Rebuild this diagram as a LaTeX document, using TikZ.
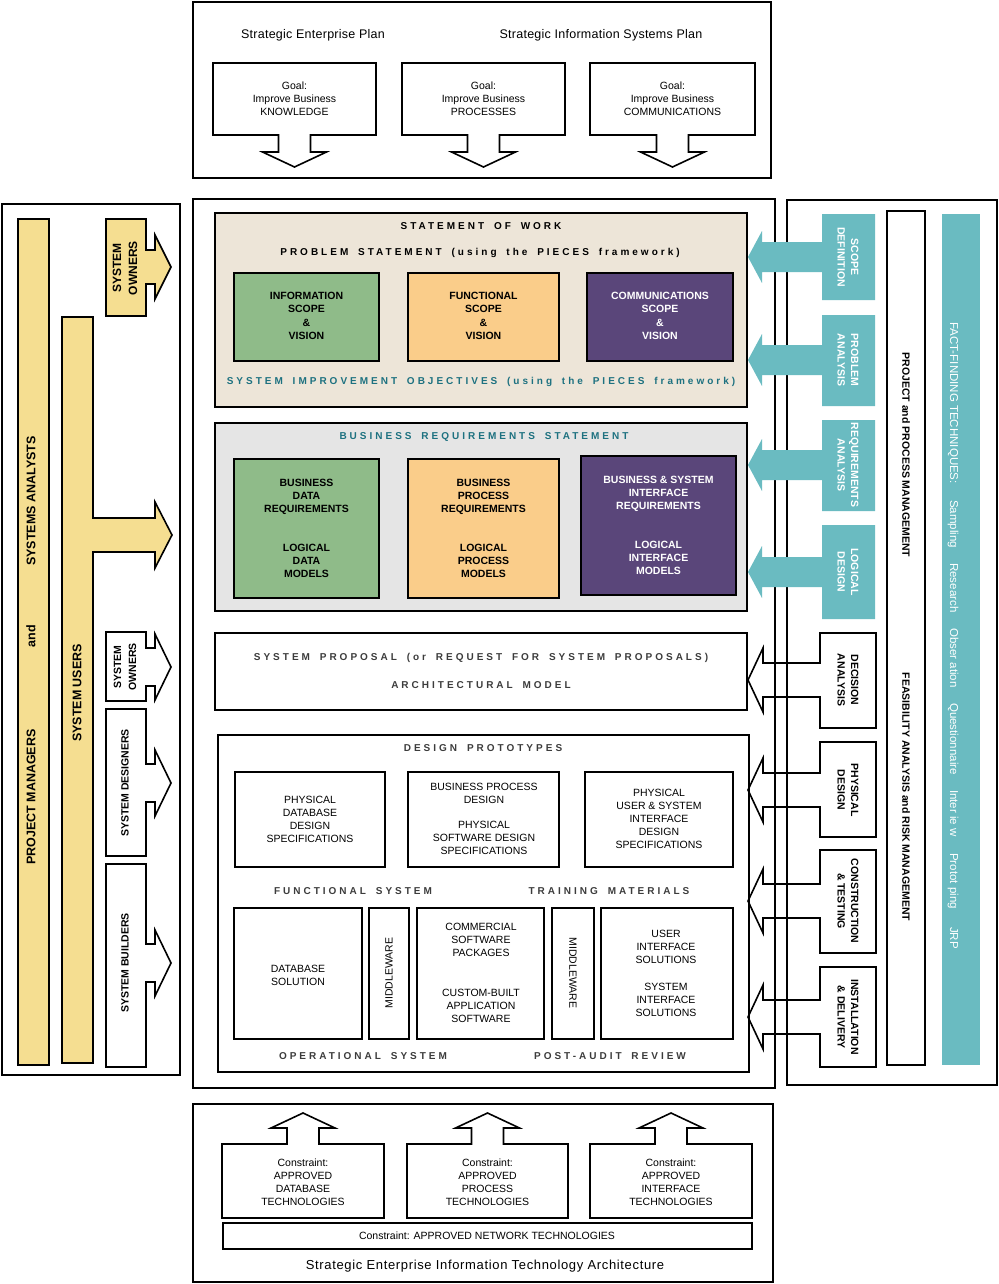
\documentclass[tikz,border=0pt]{standalone}
\usepackage{fontspec}
\setmainfont{Liberation Sans}
\newfontfamily\trackfont[LetterSpace=30, WordSpace=1.7]{Liberation Sans}
\newfontfamily\planfont[LetterSpace=2]{Liberation Sans}
\newfontfamily\archfont[LetterSpace=5]{Liberation Sans}
\definecolor{sowbeige}{RGB}{237,229,216}
\definecolor{brsgray}{RGB}{229,229,229}
\definecolor{scopegreen}{RGB}{143,187,137}
\definecolor{scopeorange}{RGB}{250,205,138}
\definecolor{scopepurple}{RGB}{90,70,122}
\definecolor{phaseteal}{RGB}{106,187,193}
\definecolor{headteal}{RGB}{29,113,128}
\definecolor{peopleyellow}{RGB}{245,222,145}
\definecolor{proposalgray}{RGB}{60,60,60}
\tikzset{frame/.style = {draw, line width=1.6pt, line join=miter},
         plantext/.style = {inner sep=0pt, font={\planfont\fontsize{12.5}{15}\selectfont}},
         boxtext/.style = {inner sep=0pt, align=center, font={\fontsize{10.5}{13}\selectfont}},
         boldtext/.style = {inner sep=0pt, align=center, font={\bfseries\fontsize{10.5}{13.3}\selectfont}},
         roletext/.style = {inner sep=0pt, align=center, font={\bfseries\fontsize{12.5}{15}\selectfont}},
         heading/.style = {inner sep=0pt, font={\trackfont\bfseries\fontsize{10}{12}\selectfont}},
         factword/.style = {inner sep=0pt, anchor=base west, rotate=-90, text=white,
                            font={\fontsize{11.5}{13}\selectfont}}}

\begin{document}
\begin{tikzpicture}[x=1pt, y=-1pt]
  \useasboundingbox (0,0) rectangle (998,1284);

  % strategic plans
  \draw [frame] (193,2) rectangle (771,178);
  \node [plantext] (enterprise) at (313,35) {Strategic Enterprise Plan};
  \node [plantext] (isplan) at (601,35) {Strategic Information Systems Plan};
  \foreach \xa/\xb/\goal [count=\i] in {213/376/KNOWLEDGE, 402/565/PROCESSES, 590/755/COMMUNICATIONS} {
    \pgfmathsetmacro\midx{(\xa+\xb)/2}
    \draw [frame] (\xa,63) -- (\xb,63) -- (\xb,135) -- (\midx+16,135) -- (\midx+16,152) -- (\midx+32,152)
      -- (\midx,167) -- (\midx-32,152) -- (\midx-16,152) -- (\midx-16,135) -- (\xa,135) -- cycle;
    \node [boxtext] (goal\i) at (\midx,99) {Goal:\\Improve Business\\\goal};
  }

  % technology architecture
  \draw [frame] (193,1104) rectangle (773,1282);
  \foreach \xa/\xb/\tech [count=\i] in {222/384/DATABASE, 407/568/PROCESS, 590/752/INTERFACE} {
    \pgfmathsetmacro\midx{(\xa+\xb)/2}
    \draw [frame] (\xa,1218) -- (\xa,1144) -- (\midx-16,1144) -- (\midx-16,1128) -- (\midx-32,1128)
      -- (\midx,1113) -- (\midx+32,1128) -- (\midx+16,1128) -- (\midx+16,1144) -- (\xb,1144) -- (\xb,1218) -- cycle;
    \node [boxtext] (tech\i) at (\midx,1182) {Constraint:\\APPROVED\\\tech\\TECHNOLOGIES};
  }
  \draw [frame] (223,1223) rectangle (752,1249);
  \node [boxtext] (network) at (487,1236) {Constraint: APPROVED NETWORK TECHNOLOGIES};
  \node [plantext, font={\archfont\fontsize{13}{15}\selectfont}] (architecture) at (485,1266)
    {Strategic Enterprise Information Technology Architecture};

  % people
  \draw [frame] (2,204) rectangle (180,1075);
  \draw [frame, fill=peopleyellow] (18,219) rectangle (49,1065);
  \draw [frame, fill=peopleyellow] (62,317) -- (93,317) -- (93,518) -- (155,518) -- (155,502) -- (172,535)
    -- (155,568) -- (155,552) -- (93,552) -- (93,1063) -- (62,1063) -- cycle;
  \draw [frame, fill=peopleyellow] (106,219) -- (146,219) -- (146,250) -- (155,250) -- (155,235) -- (171,267)
    -- (155,299) -- (155,284) -- (146,284) -- (146,316) -- (106,316) -- cycle;
  \node [roletext, rotate=90] (analysts) at (31,501) {SYSTEMS ANALYSTS};
  \node [roletext, rotate=90] (and) at (31,636) {and};
  \node [roletext, rotate=90] (managers) at (31,797) {PROJECT MANAGERS};
  \node [roletext, rotate=90] (users) at (77,693) {SYSTEM USERS};
  \node [roletext, rotate=90, font={\bfseries\fontsize{12}{16}\selectfont}] (owners) at (125,268) {SYSTEM\\OWNERS};
  \foreach \ya/\yb/\yc/\who [count=\i] in {632/701/667/{SYSTEM\\OWNERS}, 709/856/783/{SYSTEM DESIGNERS},
                                          864/1067/963/{SYSTEM BUILDERS}} {
    \draw [frame] (106,\ya) -- (146,\ya) -- (146,\yc-19) -- (155,\yc-19) -- (155,\yc-33) -- (171,\yc)
      -- (155,\yc+33) -- (155,\yc+19) -- (146,\yc+19) -- (146,\yb) -- (106,\yb) -- cycle;
    \node [boldtext, rotate=90, font={\bfseries\fontsize{10.5}{15}\selectfont}] (role\i) at (125,\yc) {\who};
  }

  % deliverables
  \draw [frame] (193,199) rectangle (775,1088);
  \draw [frame, fill=sowbeige] (215,213) rectangle (747,407);
  \node [heading] (sow) at (481,226) {STATEMENT OF WORK};
  \node [heading] (problem) at (480,253) {PROBLEM STATEMENT (using the PIECES framework)};
  \foreach \xa/\xb/\col/\ink/\what [count=\i] in {234/379/scopegreen/black/INFORMATION,
                                                 408/559/scopeorange/black/FUNCTIONAL,
                                                 587/733/scopepurple/white/COMMUNICATIONS} {
    \draw [frame, fill=\col] (\xa,273) rectangle (\xb,361);
    \node [boldtext, text=\ink] (scope\i) at ({(\xa+\xb)/2},316) {\what\\SCOPE\\\&\\VISION};
  }
  \node [heading, text=headteal] (objectives) at (481,382) {SYSTEM IMPROVEMENT OBJECTIVES (using the PIECES framework)};

  \draw [frame, fill=brsgray] (215,423) rectangle (747,611);
  \node [heading, text=headteal] (brs) at (484,437) {BUSINESS REQUIREMENTS STATEMENT};
  \foreach \xa/\ya/\xb/\yb/\col/\ink/\upper/\lower [count=\i] in
      {234/459/379/598/scopegreen/black/{BUSINESS\\DATA\\REQUIREMENTS}/{LOGICAL\\DATA\\MODELS},
       408/459/559/598/scopeorange/black/{BUSINESS\\PROCESS\\REQUIREMENTS}/{LOGICAL\\PROCESS\\MODELS},
       581/456/736/595/scopepurple/white/{BUSINESS \& SYSTEM\\INTERFACE\\REQUIREMENTS}/{LOGICAL\\INTERFACE\\MODELS}} {
    \draw [frame, fill=\col] (\xa,\ya) rectangle (\xb,\yb);
    \node [boldtext, text=\ink] (req\i) at ({(\xa+\xb)/2},\ya+38) {\upper};
    \node [boldtext, text=\ink] (model\i) at ({(\xa+\xb)/2},\ya+102) {\lower};
  }

  \draw [frame] (215,633) rectangle (747,710);
  \node [heading, text=proposalgray] (proposal) at (481,658) {SYSTEM PROPOSAL\ (or\ REQUEST FOR SYSTEM PROPOSALS)};
  \node [heading, text=proposalgray] (archmodel) at (481,685) {ARCHITECTURAL MODEL};

  \draw [frame] (218,735) rectangle (749,1072);
  \node [heading, text=proposalgray] (prototypes) at (483,748) {DESIGN PROTOTYPES};
  \draw [frame] (235,772) rectangle (385,867);
  \node [boxtext] (dbspec) at (310,819) {PHYSICAL\\DATABASE\\DESIGN\\SPECIFICATIONS};
  \draw [frame] (408,772) rectangle (559,867);
  \node [boxtext] (swspec) at (484,819) {BUSINESS PROCESS\\DESIGN\\[12pt]PHYSICAL\\SOFTWARE DESIGN\\SPECIFICATIONS};
  \draw [frame] (585,772) rectangle (733,867);
  \node [boxtext] (uispec) at (659,819) {PHYSICAL\\USER \& SYSTEM\\INTERFACE\\DESIGN\\SPECIFICATIONS};
  \node [heading, text=proposalgray] (functional) at (353,891) {FUNCTIONAL SYSTEM};
  \node [heading, text=proposalgray] (training) at (609,891) {TRAINING MATERIALS};
  \draw [frame] (234,908) rectangle (362,1039);
  \node [boxtext] (dbsol) at (298,975) {DATABASE\\SOLUTION};
  \draw [frame] (369,908) rectangle (409,1039);
  \node [boxtext, rotate=90] (midware1) at (389,973) {MIDDLEWARE};
  \draw [frame] (417,908) rectangle (544,1039);
  \node [boxtext] (software) at (481,973) {COMMERCIAL\\SOFTWARE\\PACKAGES\\[27pt]CUSTOM-BUILT\\APPLICATION\\SOFTWARE};
  \draw [frame] (552,908) rectangle (594,1039);
  \node [boxtext, rotate=-90] (midware2) at (573,973) {MIDDLEWARE};
  \draw [frame] (601,908) rectangle (733,1039);
  \node [boxtext] (uisol) at (666,973) {USER\\INTERFACE\\SOLUTIONS\\[14pt]SYSTEM\\INTERFACE\\SOLUTIONS};
  \node [heading, text=proposalgray] (operational) at (363,1056) {OPERATIONAL SYSTEM};
  \node [heading, text=proposalgray] (postaudit) at (610,1056) {POST-AUDIT REVIEW};

  % methodology
  \draw [frame] (787,200) rectangle (997,1085);
  \draw [frame] (887,211) rectangle (925,1065);
  \node [boldtext, rotate=-90] (ppm) at (906,455) {PROJECT and PROCESS MANAGEMENT};
  \node [boldtext, rotate=-90] (farm) at (906,797) {FEASIBILITY ANALYSIS and RISK MANAGEMENT};
  \fill [phaseteal] (942,214) rectangle (980,1065);
  \foreach \ys/\word [count=\i] in {322/FACT-FINDING TECHNIQUES:, 500/Sampling, 563/Research, 628/Obser ation,
                                    703/Questionnaire, 790/Inter ie w, 853/Protot ping, 927/JRP} {
    \node [factword] (fact\i) at (950,\ys) {\word};
  }
  \foreach \ya/\yb/\yc/\phase [count=\i] in {214/300/257/{SCOPE\\DEFINITION}, 315/406/360/{PROBLEM\\ANALYSIS},
                                            420/511/465/{REQUIREMENTS\\ANALYSIS}, 525/619/572/{LOGICAL\\DESIGN}} {
    \fill [phaseteal] (875,\ya) -- (875,\yb) -- (822,\yb) -- (822,\yc+15) -- (762,\yc+15) -- (762,\yc+26)
      -- (748,\yc) -- (762,\yc-26) -- (762,\yc-15) -- (822,\yc-15) -- (822,\ya) -- cycle;
    \node [boldtext, text=white, rotate=-90] (phase\i) at (848,\yc) {\phase};
  }
  \foreach \ya/\yb/\yc/\phase [count=\i] in {633/728/680/{DECISION\\ANALYSIS}, 742/837/790/{PHYSICAL\\DESIGN},
                                            850/953/901/{CONSTRUCTION\\\& TESTING}, 967/1067/1017/{INSTALLATION\\\& DELIVERY}} {
    \draw [frame] (876,\ya) -- (876,\yb) -- (820,\yb) -- (820,\yc+17) -- (763,\yc+17) -- (763,\yc+32)
      -- (748,\yc) -- (763,\yc-32) -- (763,\yc-17) -- (820,\yc-17) -- (820,\ya) -- cycle;
    \node [boldtext, rotate=-90] (task\i) at (848,\yc) {\phase};
  }
\end{tikzpicture}
\end{document}
